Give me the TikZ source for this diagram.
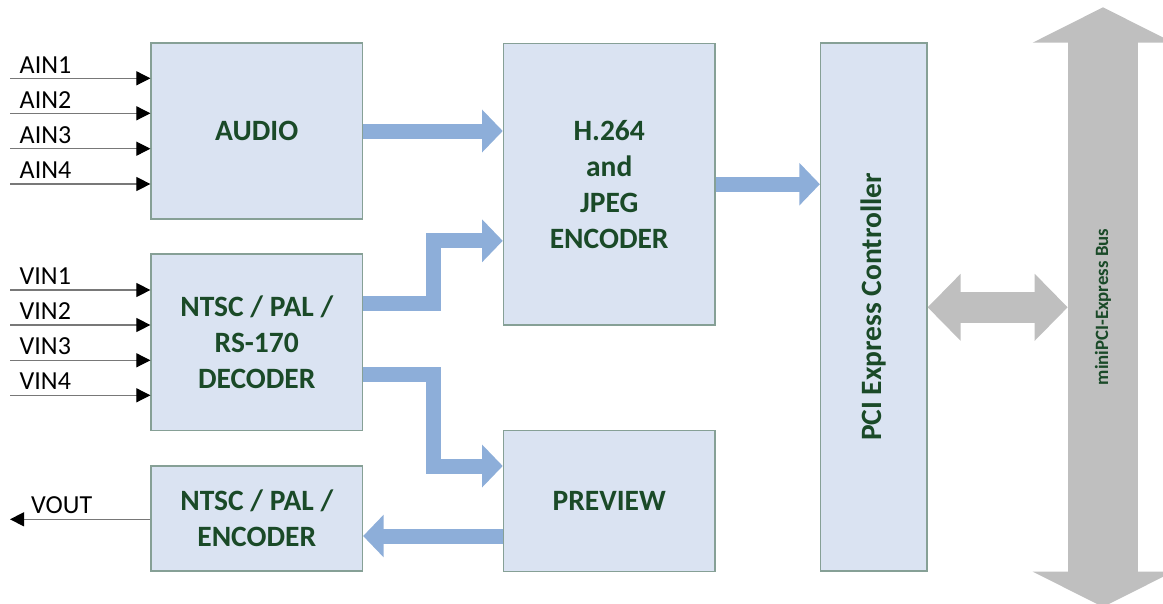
\documentclass[tikz,border=0pt]{standalone}
\usepackage{fontspec}
\setmainfont{Carlito}
\usetikzlibrary{arrows.meta}
\definecolor{boxfill}{RGB}{218,227,242}
\definecolor{boxline}{RGB}{134,160,150}
\definecolor{txtgreen}{RGB}{26,74,40}
\definecolor{flowblue}{RGB}{141,174,217}
\definecolor{busgray}{RGB}{191,191,191}
\definecolor{sigline}{RGB}{120,120,120}
\tikzset{
  block/.style={draw=boxline, line width=1.2pt, fill=boxfill, inner sep=0pt,
    text=txtgreen, align=center, font=\bfseries\fontsize{29.5}{36}\selectfont},
  flow/.style={draw=flowblue, line width=15pt, line join=miter,
    -{Triangle[length=20.6pt,width=41.5pt]}},
  link/.style={draw=busgray, line width=31pt,
    {Triangle[length=33pt,width=65pt]}-{Triangle[length=33pt,width=65pt]}},
  busarrow/.style={draw=busgray, line width=70.6pt,
    {Triangle[length=35.4pt,width=139.4pt]}-{Triangle[length=35.4pt,width=139.4pt]}},
  sig/.style={draw=sigline, line width=1.1pt,
    -{Triangle[length=14pt,width=14pt,color=black]}},
  siglabel/.style={inner sep=0pt, anchor=base west, font=\fontsize{26}{30}\selectfont}
}
\begin{document}
\begin{tikzpicture}[x=1pt,y=-1pt]
\useasboundingbox (0,0) rectangle (1163,603);

% blocks
\node[block, minimum width=211.5pt, minimum height=176pt] (audio) at (256.75,131) {AUDIO};
\node[block, minimum width=211.5pt, minimum height=176.5pt] (vdec) at (256.75,342.25) {NTSC / PAL /\\RS-170\\DECODER};
\node[block, minimum width=211.5pt, minimum height=105pt] (venc) at (256.75,518.5) {NTSC / PAL /\\ENCODER};
\node[block, minimum width=211.7pt, minimum height=281.7pt] (h264) at (609.2,184.2) {H.264\\and\\JPEG\\ENCODER};
\node[block, minimum width=211.7pt, minimum height=140.8pt] (preview) at (609.2,501.1) {PREVIEW};
\node[block, minimum width=106.5pt, minimum height=528pt] (pci) at (873.75,307) {};
\node[rotate=90, text=txtgreen, font=\bfseries\fontsize{29.5}{36}\selectfont, inner sep=0pt] (pcitext) at (pci.center) {PCI Express Controller};

% bus
\coordinate (bustop) at (1103,7.3);
\coordinate (busbot) at (1103,607);
\coordinate (busleft) at (1067.7,307.3);
\draw[busarrow] (busbot) -- (bustop);
\node[rotate=90, text=txtgreen, font=\bfseries\fontsize{18.8}{22}\selectfont, inner sep=0pt] (bustext) at (1103,307) {miniPCI-Express Bus};
\draw[link] (pci.east |- busleft) -- (busleft);

% flows
\draw[flow] (audio.east |- 0,131) -- (h264.west |- 0,131);
\draw[flow] (h264.east) -- (pci.west |- h264.east);
\draw[flow] (vdec.east |- 0,303.7) -- (433,303.7) -- (433,240.8) -- (h264.west |- 0,240.8);
\draw[flow] (vdec.east |- 0,374) -- (433,374) -- (433,466) -- (preview.west |- 0,466);
\draw[flow] (preview.west |- 0,536) -- (venc.east |- 0,536);

% audio inputs
\foreach \y/\t [count=\i] in {78.3/AIN1,113.3/AIN2,148.7/AIN3,184/AIN4}{
  \coordinate (ain\i) at (10,\y);
  \draw[sig] (ain\i) -- (audio.west |- ain\i);
  \node[siglabel] (ainl\i) at (19.5,\y-5.3) {\t};
}
% video inputs
\foreach \y/\t [count=\i] in {290/VIN1,325/VIN2,360.3/VIN3,395.3/VIN4}{
  \coordinate (vin\i) at (10,\y);
  \draw[sig] (vin\i) -- (vdec.west |- vin\i);
  \node[siglabel] (vinl\i) at (19.5,\y-5.5) {\t};
}
% video output
\coordinate (vout) at (10,519.3);
\draw[sig] (venc.west |- vout) -- (vout);
\node[siglabel] (voutl) at (31,513.5) {VOUT};
\end{tikzpicture}
\end{document}
